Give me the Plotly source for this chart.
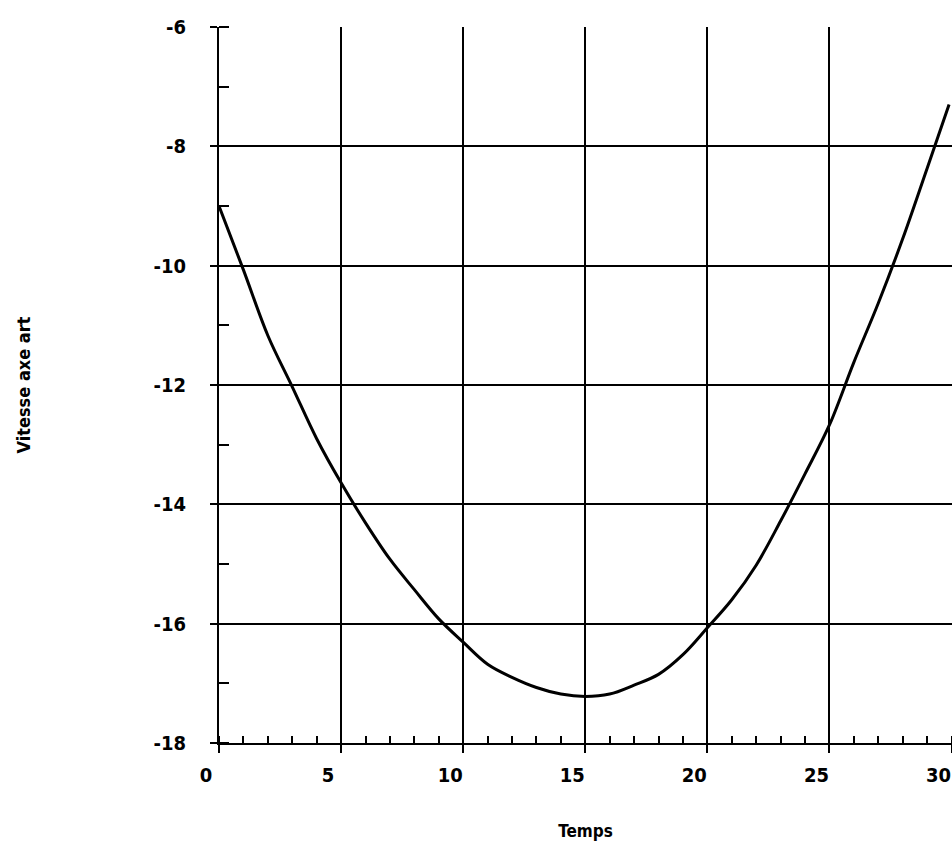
import plotly.graph_objects as go

# Data
temps = [0, 1, 2, 3, 4, 5, 6, 7, 8, 9, 10, 11, 12, 13, 14, 15,
         16, 17, 18, 19, 20, 21, 22, 23, 24, 25, 26, 27, 28, 29, 29.9]
vitesse = [-9.0, -10.07, -11.17, -12.03, -12.9, -13.64, -14.31, -14.92,
           -15.43, -15.92, -16.31, -16.68, -16.9, -17.07, -17.18, -17.22,
           -17.18, -17.03, -16.85, -16.52, -16.07, -15.6, -15.02, -14.28,
           -13.49, -12.67, -11.62, -10.63, -9.55, -8.37, -7.3]

x_ticks = [0, 5, 10, 15, 20, 25, 30]
y_ticks = [-18, -16, -14, -12, -10, -8, -6]

FONT = "Liberation Sans Narrow, DejaVu Sans Condensed, Arial Narrow, sans-serif"

fig = go.Figure()
fig.add_trace(go.Scatter(
    x=temps, y=vitesse, mode="lines",
    line=dict(color="black", width=3, shape="spline", smoothing=1.0),
    showlegend=False, hoverinfo="skip"))

fig.update_layout(
    width=952, height=845,
    margin=dict(l=219, r=0, t=27, b=102, autoexpand=False),
    paper_bgcolor="white", plot_bgcolor="white",
    font=dict(family=FONT, color="black", size=20, weight="bold"),
    xaxis=dict(
        range=[0, 30.02], tickvals=x_ticks, ticktext=[str(v) for v in x_ticks],
        automargin=False,
        showgrid=True, gridcolor="black", gridwidth=2,
        showline=True, linecolor="black", linewidth=2,
        zeroline=False,
        ticks="outside", ticklen=8, tickwidth=2, tickcolor="black",
        ticklabelstandoff=5, ticklabelshift=-13, ticklabeloverflow="allow",
        minor=dict(dtick=1, ticks="inside", ticklen=7, tickwidth=2,
                   tickcolor="black", showgrid=False),
        title=dict(text="Temps", standoff=39,
                   font=dict(family=FONT, size=17, weight="bold")),
    ),
    yaxis=dict(
        range=[-18, -6], tickvals=y_ticks, ticktext=["-" + str(abs(v)) for v in y_ticks],
        automargin=False,
        showgrid=True, gridcolor="black", gridwidth=2,
        showline=True, linecolor="black", linewidth=2,
        zeroline=False,
        ticks="outside", ticklen=7, tickwidth=2, tickcolor="black",
        ticklabelstandoff=20,
        minor=dict(dtick=1, ticks="inside", ticklen=10, tickwidth=2,
                   tickcolor="black", showgrid=False),
        title=dict(text="Vitesse axe art", standoff=118,
                   font=dict(family=FONT, size=18, weight="bold")),
    ),
)

fig.write_html("out.html",
               config={"displayModeBar": False},
               post_script="document.body.style.margin='0';document.body.style.overflow='hidden';")
